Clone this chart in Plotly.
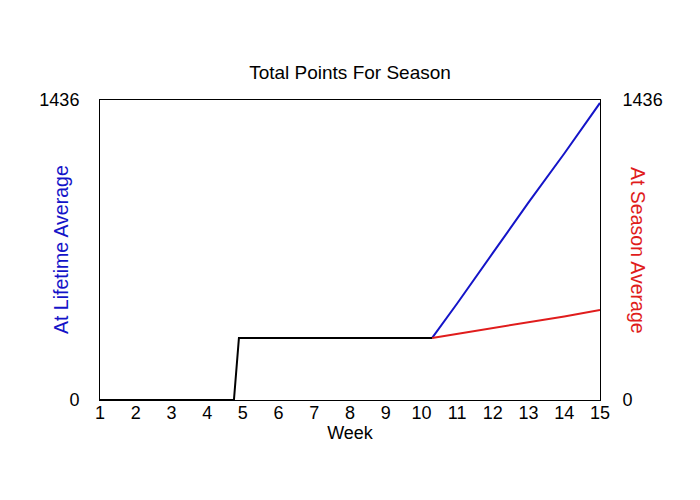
import plotly.graph_objects as go

# black line: season so far
week_actual = [1, 2, 3, 4, 4.75, 4.89, 6, 7, 8, 9, 10, 10.3]
pts_actual = [0, 0, 0, 0, 0, 297, 297, 297, 297, 297, 297, 297]

# projections after week 10.3
week_proj = [10.3, 11, 12, 13, 14, 15]
pts_lifetime = [297, 462, 704, 946, 1180, 1422]
pts_season = [297, 316, 344, 372, 400, 431]

y_max = 1436

fig = go.Figure()
fig.add_trace(go.Scatter(x=week_proj, y=pts_lifetime, mode="lines",
                         line=dict(color="#1414c8", width=2), showlegend=False))
fig.add_trace(go.Scatter(x=week_proj, y=pts_season, mode="lines",
                         line=dict(color="#e01c1c", width=2), showlegend=False))
fig.add_trace(go.Scatter(x=week_actual, y=pts_actual, mode="lines",
                         line=dict(color="black", width=2), showlegend=False))
# invisible trace so the right axis gets drawn
fig.add_trace(go.Scatter(x=[1], y=[0], yaxis="y2", mode="markers",
                         marker=dict(opacity=0), showlegend=False, hoverinfo="skip"))

font = dict(family="Arial, Liberation Sans", size=18, color="black")

fig.update_layout(
    width=700, height=500,
    plot_bgcolor="white", paper_bgcolor="white",
    margin=dict(l=92, r=108, t=92, b=108, autoexpand=False),
    font=font,
    title=dict(text="Total Points For Season", x=0.5, xanchor="center",
               xref="paper", y=0.872, yanchor="middle", font=dict(size=19)),
    xaxis=dict(range=[1, 15], tickvals=list(range(1, 16)), showgrid=False,
               zeroline=False, showline=True, linecolor="black", linewidth=1,
               mirror=True, ticks="", ticklabelstandoff=-4,
               title=dict(text="Week", standoff=0, font=dict(size=18)),
               tickfont=dict(size=18)),
    yaxis=dict(range=[0, y_max], tickvals=[0, y_max], showgrid=False,
               zeroline=False, showline=True, linecolor="black", linewidth=1,
               ticks="", ticklabelstandoff=16, tickfont=dict(size=18)),
    yaxis2=dict(range=[0, y_max], tickvals=[0, y_max], overlaying="y", side="right",
                showgrid=False, zeroline=False, showline=True, linecolor="black",
                linewidth=1, ticks="", ticklabelstandoff=18, tickfont=dict(size=18)),
    annotations=[
        dict(text="At Lifetime Average", x=-0.078, y=0.5, xref="paper", yref="paper",
             xanchor="center", yanchor="middle", textangle=-90, showarrow=False,
             font=dict(color="#1414c8", size=19.5)),
        dict(text="At Season Average", x=1.076, y=0.5, xref="paper", yref="paper",
             xanchor="center", yanchor="middle", textangle=90, showarrow=False,
             font=dict(color="#e01c1c", size=19.5)),
    ],
)

fig.write_html("out.html")
